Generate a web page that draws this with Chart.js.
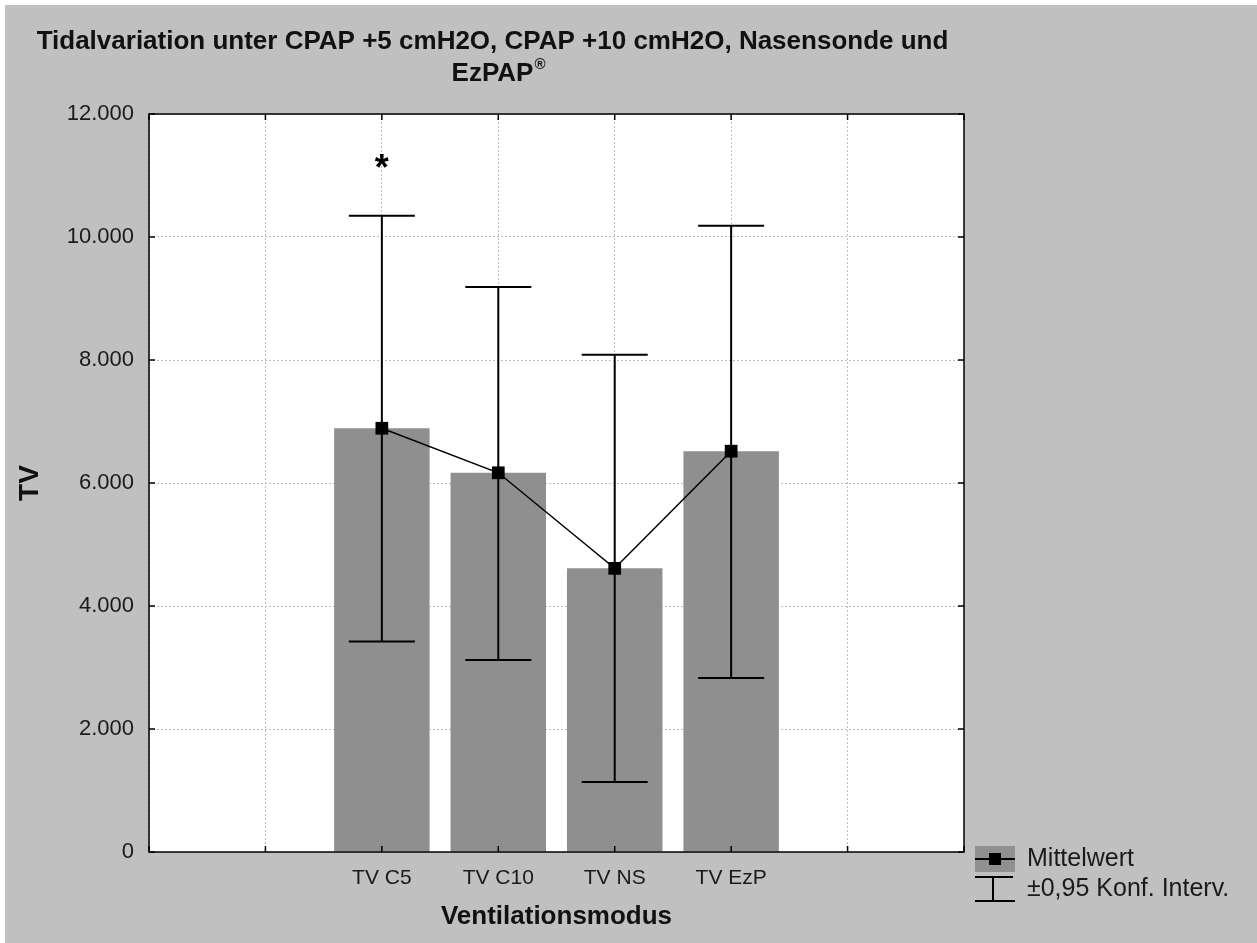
<!DOCTYPE html>
<html>
<head>
<meta charset="utf-8">
<script src="https://cdn.jsdelivr.net/npm/chart.js@4"></script>
<style>
  body { margin: 0; background: #fff; }
  #wrap { position: absolute; left: 5px; top: 5px; width: 1252px; height: 938px; background: #c0c0c0; }
</style>
</head>
<body>
<div id="wrap"><canvas id="chart" width="1252" height="938"></canvas></div>
<script>
// axis runs 0..7, the four modes sit on positions 2..5
const categories = ["", "", "TV C5", "TV C10", "TV NS", "TV EzP", "", ""];
const meanTV = [null, null, 6890, 6166, 4612, 6517, null, null];
const ciLower = [null, null, 3421, 3123, 1137, 2830, null, null];
const ciUpper = [null, null, 10344, 9186, 8087, 10182, null, null];
const significance = [null, null, "*", null, null, null, null, null];
const significanceLevel = 11250;
const yTicks = [0, 2000, 4000, 6000, 8000, 10000, 12000];
const titleLines = ["Tidalvariation unter CPAP +5 cmH2O, CPAP +10 cmH2O, Nasensonde und", "EzPAP"];
const titleMark = "\u00ae";

const FONT = '"Liberation Sans", Arial, sans-serif';
const INK = "#1a1a1a";
const TITLE_FONT = { family: FONT, size: 26, weight: "bold", lineHeight: "32px" };

// white plot area, black frame and the small inner tick marks
const plotFrame = {
  id: "plotFrame",
  beforeDraw(chart) {
    const { ctx, chartArea: a } = chart;
    ctx.save();
    ctx.fillStyle = "#fff";
    ctx.fillRect(a.left, a.top, a.right - a.left, a.bottom - a.top);
    ctx.restore();
  },
  afterDraw(chart) {
    const { ctx, chartArea: a, scales } = chart;
    ctx.save();
    ctx.strokeStyle = "#000";
    ctx.lineWidth = 1.5;
    ctx.strokeRect(a.left, a.top, a.right - a.left, a.bottom - a.top);
    ctx.beginPath();
    scales.x.ticks.forEach((t, i) => {
      const x = scales.x.getPixelForTick(i);
      ctx.moveTo(x, a.top);
      ctx.lineTo(x, a.top + 6);
      ctx.moveTo(x, a.bottom);
      ctx.lineTo(x, a.bottom - 6);
    });
    scales.y.ticks.forEach((t, i) => {
      const y = scales.y.getPixelForTick(i);
      ctx.moveTo(a.left, y);
      ctx.lineTo(a.left + 6, y);
      ctx.moveTo(a.right, y);
      ctx.lineTo(a.right - 6, y);
    });
    ctx.stroke();

    // superscript registered sign after the second title line
    const tb = chart.titleBlock;
    ctx.font = "bold 26px " + FONT;
    const w = ctx.measureText(titleLines[1]).width;
    const cx = (tb.left + tb.right) / 2;
    ctx.font = "bold 15px " + FONT;
    ctx.fillStyle = "#111";
    ctx.textAlign = "left";
    ctx.textBaseline = "middle";
    ctx.fillText(titleMark, cx + w / 2 + 1, tb.top + 21 + 48 - 9);
    ctx.restore();
  }
};

// confidence interval whiskers, drawn after the bars and below the mean line
const errorBars = {
  id: "errorBars",
  afterDatasetDraw(chart, args) {
    if (args.meta.type !== "bar") return;
    const { ctx, scales } = chart;
    ctx.save();
    ctx.strokeStyle = "#000";
    ctx.lineWidth = 2;
    ctx.beginPath();
    ciLower.forEach((lo, i) => {
      if (lo === null) return;
      const x = scales.x.getPixelForValue(i);
      const yLo = scales.y.getPixelForValue(lo);
      const yHi = scales.y.getPixelForValue(ciUpper[i]);
      ctx.moveTo(x, yLo);
      ctx.lineTo(x, yHi);
      ctx.moveTo(x - 33, yHi);
      ctx.lineTo(x + 33, yHi);
      ctx.moveTo(x - 33, yLo);
      ctx.lineTo(x + 33, yLo);
    });
    ctx.stroke();

    ctx.fillStyle = "#000";
    ctx.font = "bold 36px " + FONT;
    ctx.textAlign = "center";
    ctx.textBaseline = "middle";
    significance.forEach((s, i) => {
      if (!s) return;
      ctx.fillText(s, scales.x.getPixelForValue(i), scales.y.getPixelForValue(significanceLevel) + 10);
    });
    ctx.restore();
  }
};

// legend in the lower right corner, outside the plot
const sideLegend = {
  id: "sideLegend",
  afterDraw(chart) {
    const { ctx, chartArea: a } = chart;
    const x0 = a.right + 11;
    const y0 = a.bottom - 6;
    ctx.save();
    ctx.fillStyle = "#909090";
    ctx.fillRect(x0, y0, 40, 26);
    ctx.strokeStyle = "#000";
    ctx.lineWidth = 2;
    ctx.beginPath();
    ctx.moveTo(x0, y0 + 13);
    ctx.lineTo(x0 + 40, y0 + 13);
    ctx.stroke();
    ctx.fillStyle = "#000";
    ctx.fillRect(x0 + 14, y0 + 7, 12, 12);

    ctx.beginPath();
    ctx.moveTo(x0 + 18, y0 + 31);
    ctx.lineTo(x0 + 18, y0 + 55);
    ctx.moveTo(x0, y0 + 31);
    ctx.lineTo(x0 + 38, y0 + 31);
    ctx.moveTo(x0, y0 + 55);
    ctx.lineTo(x0 + 40, y0 + 55);
    ctx.stroke();

    ctx.fillStyle = INK;
    ctx.font = "25px " + FONT;
    ctx.textAlign = "left";
    ctx.textBaseline = "middle";
    ctx.fillText("Mittelwert", x0 + 52, y0 + 13);
    ctx.fillText("\u00b10,95 Konf. Interv.", x0 + 52, y0 + 43);
    ctx.restore();
  }
};

new Chart(document.getElementById("chart"), {
  type: "bar",
  data: {
    labels: categories,
    datasets: [
      {
        type: "line",
        label: "Mittelwert",
        data: meanTV,
        borderColor: "#000",
        borderWidth: 1.5,
        tension: 0,
        pointStyle: "rect",
        pointRadius: 9,
        pointBackgroundColor: "#000",
        pointBorderWidth: 0,
        order: 0
      },
      {
        label: "TV",
        data: meanTV,
        backgroundColor: "#8f8f8f",
        borderWidth: 0,
        barPercentage: 0.82,
        categoryPercentage: 1,
        order: 1
      }
    ]
  },
  options: {
    responsive: false,
    animation: false,
    layout: { padding: { left: 0, top: 0, right: 277, bottom: 0 } },
    plugins: {
      legend: { display: false },
      tooltip: { enabled: false },
      title: {
        display: true,
        text: titleLines,
        color: "#111",
        font: TITLE_FONT,
        padding: { top: 21, bottom: 24 }
      }
    },
    scales: {
      x: {
        offset: false,
        grid: { offset: false, color: "#bdbdbd", drawTicks: false },
        border: { display: false, dash: [2, 2] },
        ticks: {
          autoSkip: false,
          maxRotation: 0,
          padding: 14,
          color: INK,
          font: { family: FONT, size: 21 }
        },
        title: {
          display: true,
          text: "Ventilationsmodus",
          color: "#111",
          font: { family: FONT, size: 26, weight: "bold" },
          padding: { top: 0, bottom: 11 }
        },
        afterFit: (s) => { s.height = 91; }
      },
      y: {
        min: 0,
        max: 12000,
        afterBuildTicks: (s) => { s.ticks = yTicks.map((v) => ({ value: v })); },
        grid: { color: "#bdbdbd", drawTicks: false },
        border: { display: false, dash: [2, 2] },
        ticks: {
          padding: 15,
          color: INK,
          font: { family: FONT, size: 22 },
          callback: (v) => v.toLocaleString("de-DE")
        },
        title: {
          display: true,
          text: "TV",
          color: "#111",
          font: { family: FONT, size: 28, weight: "bold" },
          padding: { top: 8, bottom: 0 }
        },
        afterFit: (s) => { s.width = 144; }
      },
      y2: {
        position: "right",
        display: true,
        min: 0,
        max: 12000,
        grid: { display: false, drawTicks: false },
        border: { display: false },
        ticks: { display: false },
        afterFit: (s) => { s.width = 16; }
      }
    }
  },
  plugins: [plotFrame, errorBars, sideLegend]
});
</script>
</body>
</html>
